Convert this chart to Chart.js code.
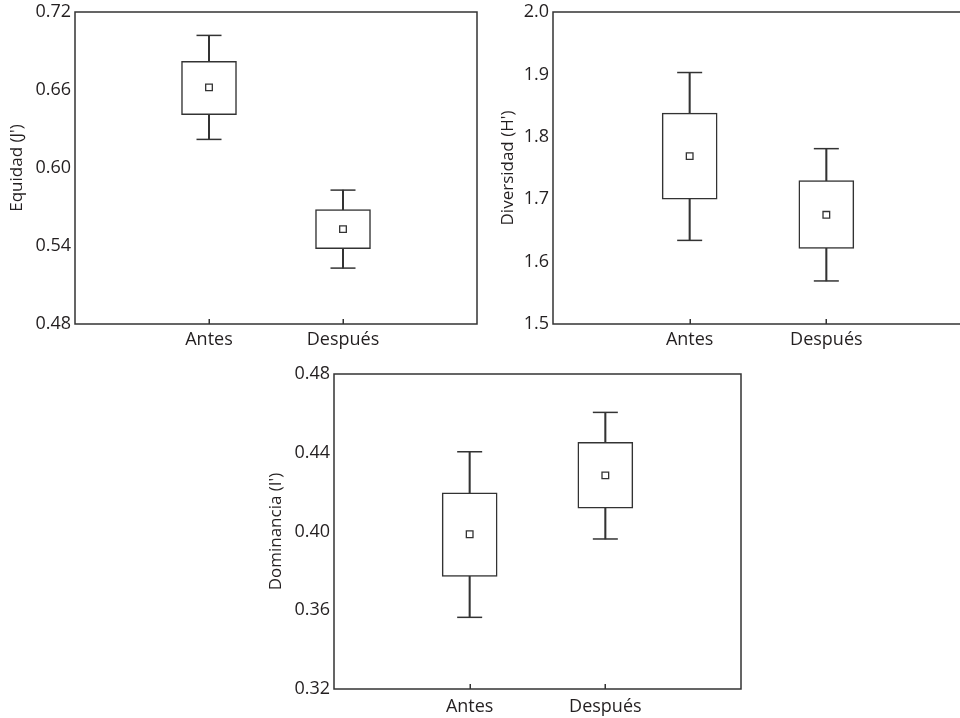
<!DOCTYPE html>
<html>
<head>
<meta charset="utf-8">
<script src="https://cdn.jsdelivr.net/npm/chart.js@4/dist/chart.umd.min.js"></script>
<style>
  html, body { margin: 0; padding: 0; background: #fff; overflow: hidden; width: 960px; height: 718px; }
  .panel { position: absolute; }
</style>
</head>
<body>
<div class="panel" style="left:0px; top:0px; width:480px; height:360px;"><canvas id="c1"></canvas></div>
<div class="panel" style="left:480px; top:0px; width:490px; height:360px;"><canvas id="c2"></canvas></div>
<div class="panel" style="left:240px; top:360px; width:520px; height:358px;"><canvas id="c3"></canvas></div>
<script>
// Groups compared
const categories = ['Antes', 'Después'];

// Equidad (J')
const equidadMean = [0.662, 0.553];
const equidadQ1   = [0.641, 0.538];
const equidadQ3   = [0.682, 0.568];
const equidadLow  = [0.622, 0.523];
const equidadHigh = [0.702, 0.583];
const equidadTicks = [0.48, 0.54, 0.60, 0.66, 0.72];

// Diversidad (H')
const diversidadMean = [1.769, 1.675];
const diversidadQ1   = [1.700, 1.621];
const diversidadQ3   = [1.838, 1.730];
const diversidadLow  = [1.634, 1.569];
const diversidadHigh = [1.903, 1.781];
const diversidadTicks = [1.5, 1.6, 1.7, 1.8, 1.9, 2.0];

// Dominancia (I')
const dominanciaMean = [0.3986, 0.4285];
const dominanciaQ1   = [0.3772, 0.4119];
const dominanciaQ3   = [0.4197, 0.4453];
const dominanciaLow  = [0.3564, 0.3962];
const dominanciaHigh = [0.4405, 0.4605];
const dominanciaTicks = [0.32, 0.36, 0.40, 0.44, 0.48];

const INK = '#333333';
const TEXT = '#231f20';
const FONT = '"Open Sans", "Noto Sans", sans-serif';

// empty slots on both sides put the two groups at 1/3 and 2/3 of the width
const labels = ['', ...categories, ''];
const pad = arr => [null, ...arr, null];

// closed frame around the plotting area, with short inward ticks at each group
const framePlugin = {
  id: 'frame',
  afterDatasetsDraw(chart) {
    const a = chart.chartArea, ctx = chart.ctx, xs = chart.scales.x;
    ctx.save();
    ctx.strokeStyle = INK;
    ctx.lineWidth = 1.5;
    ctx.strokeRect(a.left, a.top, a.right - a.left, a.bottom - a.top);
    ctx.beginPath();
    labels.forEach((lab, i) => {
      if (!lab) return;
      const x = Math.round(xs.getPixelForTick(i)) + 0.25;
      ctx.moveTo(x, a.bottom);
      ctx.lineTo(x, a.bottom - 5);
    });
    ctx.stroke();
    ctx.restore();
  }
};

function makeBoxChart(id, cfg) {
  const datasets = [
    { // mean marker
      type: 'line', order: 0, data: pad(cfg.mean), showLine: false,
      pointStyle: 'rect', pointRadius: 4.7, pointHoverRadius: 4.7,
      pointBackgroundColor: '#fff', pointBorderColor: INK, pointBorderWidth: 1.3
    },
    { // upper whisker cap
      type: 'line', order: 1, data: pad(cfg.high), showLine: false,
      pointStyle: 'line', pointRadius: 12.5, pointHoverRadius: 12.5,
      pointBorderColor: INK, pointBorderWidth: 1.5
    },
    { // lower whisker cap
      type: 'line', order: 1, data: pad(cfg.low), showLine: false,
      pointStyle: 'line', pointRadius: 12.5, pointHoverRadius: 12.5,
      pointBorderColor: INK, pointBorderWidth: 1.5
    },
    { // box
      type: 'bar', order: 2, grouped: false,
      data: pad(cfg.q1.map((v, i) => [v, cfg.q3[i]])),
      barThickness: 55, backgroundColor: '#fff', borderColor: INK,
      borderWidth: 1.5, borderSkipped: false
    },
    { // whisker stem
      type: 'bar', order: 3, grouped: false,
      data: pad(cfg.low.map((v, i) => [v, cfg.high[i]])),
      barThickness: 1.4, backgroundColor: INK, borderWidth: 0
    }
  ];

  return new Chart(document.getElementById(id), {
    data: { labels, datasets },
    plugins: [framePlugin],
    options: {
      responsive: true,
      maintainAspectRatio: false,
      animation: false,
      events: [],
      layout: {
        autoPadding: false,
        padding: { top: cfg.padTop, right: cfg.padRight, left: 0, bottom: 0 }
      },
      plugins: { legend: { display: false }, tooltip: { enabled: false } },
      scales: {
        x: {
          type: 'category',
          offset: false,
          border: { display: false },
          grid: { display: false, drawTicks: false },
          ticks: {
            autoSkip: false, maxRotation: 0, padding: cfg.xPad,
            color: TEXT, font: { family: FONT, size: 18 }
          },
          afterFit: s => { s.height = cfg.xHeight; s.paddingLeft = 0; s.paddingRight = 0; }
        },
        y: {
          min: cfg.ticks[0],
          max: cfg.ticks[cfg.ticks.length - 1],
          border: { display: false },
          grid: { display: false, drawTicks: false },
          afterBuildTicks: s => { s.ticks = cfg.ticks.map(v => ({ value: v })); },
          ticks: {
            padding: 4,
            color: TEXT, font: { family: FONT, size: 18 },
            callback: v => Number(v).toFixed(cfg.decimals)
          },
          title: {
            display: true, text: cfg.title, color: TEXT,
            font: { family: FONT, size: 17 },
            padding: { top: cfg.titlePad, bottom: 0 }
          },
          afterFit: s => { s.width = cfg.yWidth; s.paddingTop = 0; s.paddingBottom = 0; }
        }
      }
    }
  });
}

makeBoxChart('c1', {
  mean: equidadMean, q1: equidadQ1, q3: equidadQ3, low: equidadLow, high: equidadHigh,
  ticks: equidadTicks, decimals: 2, title: "Equidad (J')",
  yWidth: 75, xHeight: 36, padTop: 12, padRight: 3, titlePad: 7, xPad: 5
});

makeBoxChart('c2', {
  mean: diversidadMean, q1: diversidadQ1, q3: diversidadQ3, low: diversidadLow, high: diversidadHigh,
  ticks: diversidadTicks, decimals: 1, title: "Diversidad (H')",
  yWidth: 73, xHeight: 36, padTop: 12, padRight: 7, titlePad: 18, xPad: 5
});

makeBoxChart('c3', {
  mean: dominanciaMean, q1: dominanciaQ1, q3: dominanciaQ3, low: dominanciaLow, high: dominanciaHigh,
  ticks: dominanciaTicks, decimals: 2, title: "Dominancia (I')",
  yWidth: 94, xHeight: 29, padTop: 14, padRight: 19, titlePad: 26, xPad: 7
});
</script>
</body>
</html>
